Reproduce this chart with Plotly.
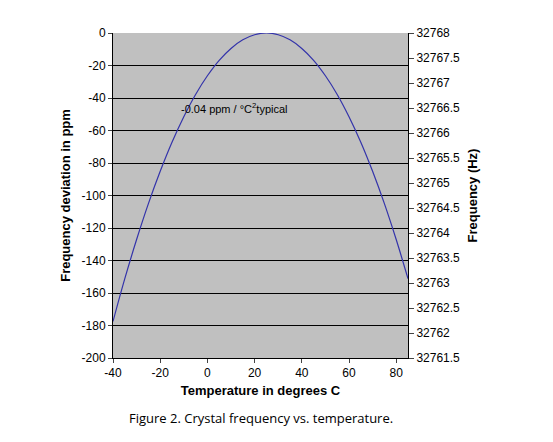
import plotly.graph_objects as go

temps = [-40,-35,-30,-25,-20,-15,-10,-5,0,5,10,15,20,25,30,35,40,45,50,55,60,65,70,75,80,85]
ppm = [-177.5,-151.2,-127.1,-105,-85.1,-67.2,-51.5,-37.8,-26.3,-16.8,-9.5,-4.2,-1.1,0,
       -1.1,-4.2,-9.5,-16.8,-26.3,-37.8,-51.5,-67.2,-85.1,-105,-127.1,-151.2]
x_ticks = [-40,-20,0,20,40,60,80]
y_ticks = [0,-20,-40,-60,-80,-100,-120,-140,-160,-180,-200]
hz_ticks = [32768,32767.5,32767,32766.5,32766,32765.5,32765,32764.5,32764,32763.5,32763,32762.5,32762,32761.5]

F = "Liberation Sans, Arial, sans-serif"
fig = go.Figure()
fig.add_trace(go.Scatter(x=temps, y=ppm, mode="lines", line=dict(color="#3333aa", width=1.2),
                         line_shape="spline", showlegend=False))
fig.add_trace(go.Scatter(x=[temps[0]], y=[hz_ticks[0]], yaxis="y2", mode="markers",
                         marker=dict(opacity=0), showlegend=False, hoverinfo="skip"))
fig.update_layout(
    width=553, height=442, margin=dict(l=105, r=153, t=25, b=92),
    paper_bgcolor="white", plot_bgcolor="#c0c0c0",
    font=dict(family=F, size=12, color="black"),
    xaxis=dict(range=[-40, 85], tickvals=x_ticks, ticktext=[str(v) for v in x_ticks], showgrid=False,
               showline=True, linecolor="black", ticks="outside", ticklen=4,
               title=dict(text="<b>Temperature in degrees C</b>", font=dict(size=13), standoff=6), zeroline=False),
    yaxis=dict(range=[-200, 0], tickvals=y_ticks, ticktext=[str(v) for v in y_ticks],
               showgrid=True, gridcolor="black", gridwidth=1,
               showline=True, linecolor="black", ticks="outside", ticklen=4, zeroline=False,
               title=dict(text="<b>Frequency deviation in ppm</b>", font=dict(size=13), standoff=8)),
    yaxis2=dict(range=[32761.5, 32768], tickvals=hz_ticks, ticktext=[f"{v:g}" for v in hz_ticks],
                overlaying="y", side="right",
                showgrid=False, showline=True, linecolor="black", ticks="outside", ticklen=5,
                zeroline=False,
                title=dict(text="<b>Frequency (Hz)</b>", font=dict(size=13), standoff=8)),
    annotations=[
        dict(x=-12, y=-46, text="-0.04 ppm / °C<sup>2</sup>typical", showarrow=False,
             xanchor="left", font=dict(size=11)),
        dict(x=0.5, xref="paper", y=-0.15, yref="paper", yanchor="top",
             text="Figure 2. Crystal frequency vs. temperature.", showarrow=False,
             font=dict(size=13, family="Open Sans, sans-serif")),
    ],
)
fig.write_html("out.html")
